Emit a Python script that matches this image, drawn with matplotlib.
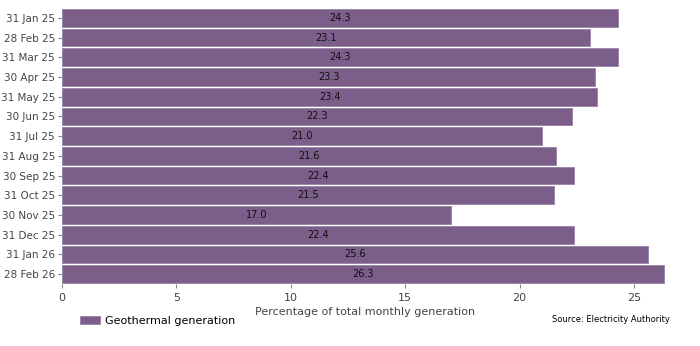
import matplotlib.pyplot as plt

plt.rcParams['font.family'] = ['DejaVu Sans']

months = ['31 Jan 25', '28 Feb 25', '31 Mar 25', '30 Apr 25', '31 May 25', '30 Jun 25',
          '31 Jul 25', '31 Aug 25', '30 Sep 25', '31 Oct 25', '30 Nov 25', '31 Dec 25',
          '31 Jan 26', '28 Feb 26']
geothermal = [24.3, 23.1, 24.3, 23.3, 23.4, 22.3, 21.0, 21.6, 22.4, 21.5, 17.0, 22.4, 25.6, 26.3]

color = '#7b5e89'

fig = plt.figure(figsize=(7, 3.46), dpi=100)
ax = fig.add_axes([0.0886, 0.179, 0.866, 0.798])

pos = list(range(len(months)))
bars = ax.barh(pos, geothermal, height=0.9, color=color, edgecolor='#9a82a6',
               linewidth=0.6, label='Geothermal generation')
for p, v in zip(pos, geothermal):
    ax.text(v / 2, p, f'{v:.1f}', ha='center', va='center', fontsize=7, color='#111111')

ax.set_yticks(pos)
ax.set_yticklabels(months, fontsize=7.5, color='#444444')
ax.set_ylim(len(months) - 0.5, -0.5)
ax.set_xlim(0, 26.5)
ax.set_xticks([0, 5, 10, 15, 20, 25])
ax.tick_params(axis='x', labelsize=8, colors='#888888', labelcolor='#444444', length=3)
ax.tick_params(axis='y', length=3, pad=2, colors='#888888', labelcolor='#444444')
ax.set_xlabel('Percentage of total monthly generation', fontsize=8, color='#444444', labelpad=3)
for s in ax.spines.values():
    s.set_visible(False)

fig.legend(handles=[bars], labels=['Geothermal generation'], loc='center left',
           bbox_to_anchor=(0.114, 0.072), frameon=False, fontsize=8,
           handlelength=1.8, handletextpad=0.5, borderpad=0, borderaxespad=0)
fig.text(0.957, 0.078, 'Source: Electricity Authority', ha='right', va='center', fontsize=6)

fig.savefig('out.png', dpi=100)
